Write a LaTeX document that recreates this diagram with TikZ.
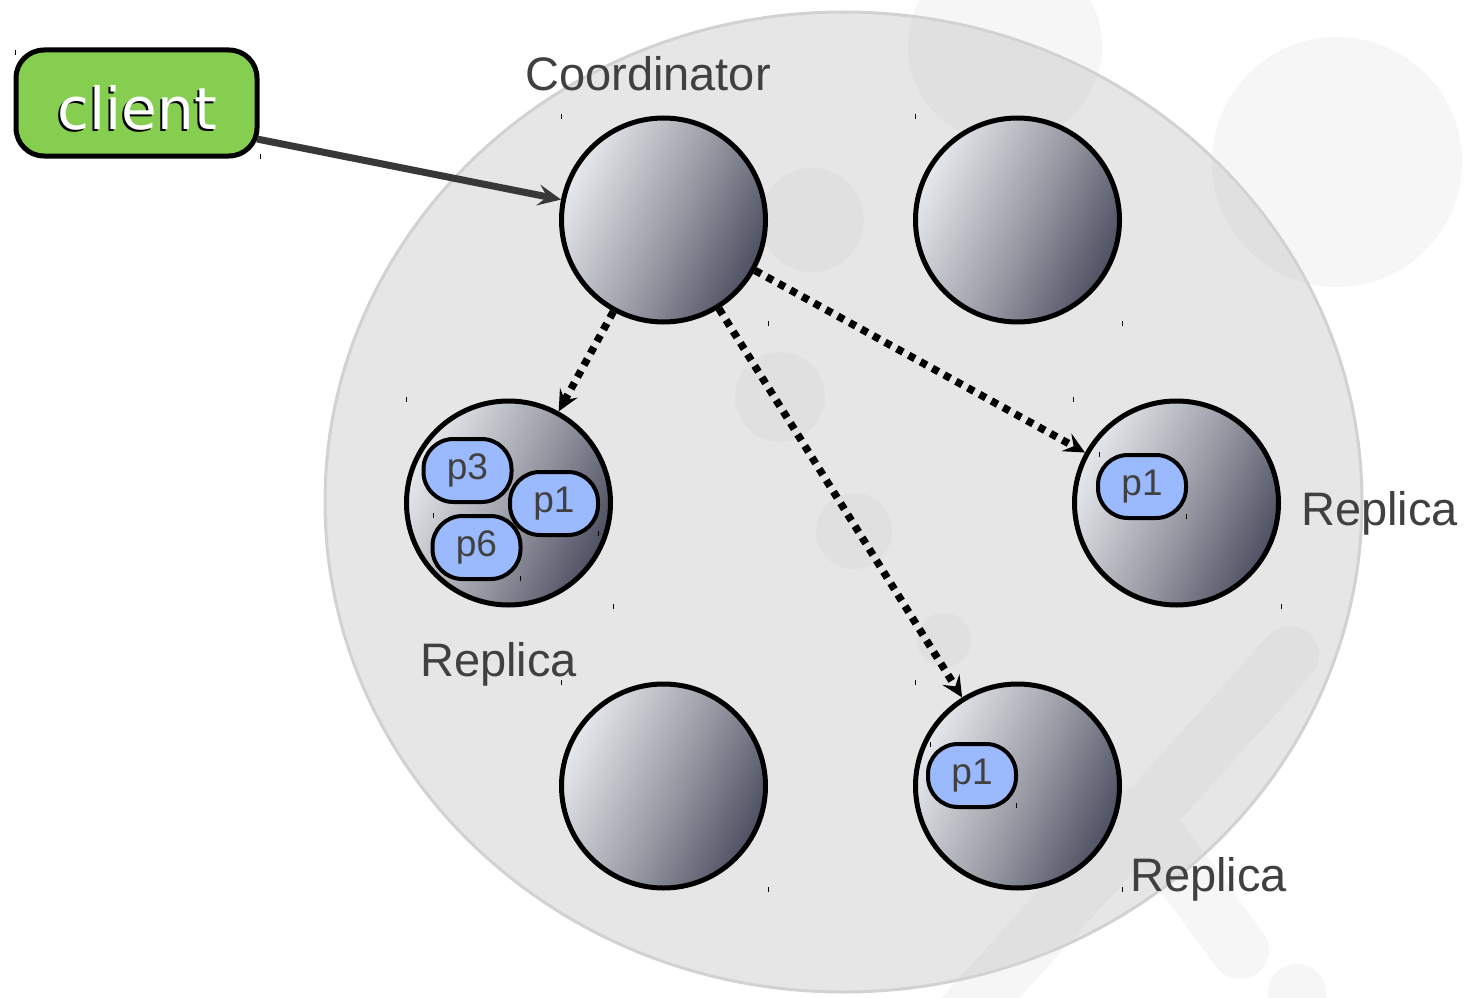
\documentclass[tikz,border=0pt]{standalone}
\usepackage{fontspec}
\setmainfont{Liberation Sans}
\newfontfamily\clientfont{DejaVu Sans}
\usetikzlibrary{arrows.meta}

\definecolor{ringfill}{HTML}{E6E6E6}
\definecolor{ringedge}{HTML}{D2D2D2}
\definecolor{markin}{HTML}{E0E0E0}
\definecolor{markout}{HTML}{F6F6F6}
\definecolor{nodelight}{HTML}{E6E9EC}
\definecolor{nodemid}{HTML}{A0A2AB}
\definecolor{nodedark}{HTML}{4E5062}
\definecolor{clientgreen}{HTML}{86CE50}
\definecolor{partblue}{HTML}{9BB9FD}
\definecolor{labelgray}{HTML}{404040}
\definecolor{arrowgray}{HTML}{383838}

\begin{document}
\begin{tikzpicture}[x=1pt,y=-1pt,
  server/.style={circle, draw=black, line width=5pt, minimum size=204pt,
    inner sep=0pt, top color=nodelight, bottom color=nodedark,
    middle color=nodemid, shading angle=65},
  part/.style={rectangle, rounded corners=30pt, draw=black, line width=4pt,
    fill=partblue, minimum width=88pt, minimum height=63pt, inner sep=0pt,
    text=labelgray, font=\fontsize{37pt}{40pt}\selectfont},
  rolelabel/.style={anchor=base west, inner sep=0pt, text=labelgray,
    font=\fontsize{47pt}{50pt}\selectfont},
  clientbox/.style={rectangle, rounded corners=28pt, draw=black,
    line width=5pt, fill=clientgreen, minimum width=241pt,
    minimum height=106pt},
  clienttext/.style={inner sep=0pt, font=\clientfont\fontsize{58pt}{60pt}\selectfont},
  sendarrow/.style={draw=arrowgray, line width=7pt,
    -{Stealth[length=23pt,width=21pt,inset=9pt]}},
  replarrow/.style={draw=black, line width=7.5pt, dash pattern=on 7pt off 6.5pt,
    -{Stealth[length=21pt,width=20pt,inset=8pt]}},
  bbtick/.style={draw=black, line width=1pt},
  watermark/.style={line width=58pt, line cap=round}
]
\useasboundingbox (0,0) rectangle (1465,998);

% faint emblem behind the ring (outside part)
\fill[markout] (1005,46) circle[radius=97] (1337,162) circle[radius=125]
  (1297,993) circle[radius=29];
\draw[markout, watermark] (1290,655) -- (965,1015);
\draw[markout, watermark] (1140,815) -- (1240,950);

% the ring of servers
\draw[ringedge, line width=3pt, fill=ringfill]
  (843.5,502) ellipse [x radius=518.5, y radius=490];

% faint emblem inside the ring
\begin{scope}
  \clip (843.5,502) ellipse [x radius=517, y radius=488.5];
  \fill[markin] (1005,46) circle[radius=97] (1337,162) circle[radius=125]
    (1297,993) circle[radius=29] (812,220) circle[radius=52]
    (780,397) circle[radius=45] (854,531) circle[radius=38]
    (944,640) circle[radius=27];
  \draw[markin, watermark] (1290,655) -- (965,1015);
  \draw[markin, watermark] (1140,815) -- (1240,950);
\end{scope}

% servers
\node[server] (coord) at (663.5,220) {};
\node[server] (srvNE) at (1017.5,220) {};
\node[server] (repL)  at (508.5,503) {};
\node[server] (repR)  at (1176.5,503) {};
\node[server] (srvS)  at (663.5,786) {};
\node[server] (repSE) at (1017.5,786) {};

% partitions held by the replicas
\node[part] (p3)  at (467.5,470.5) {p3};
\node[part] (p1L) at (554,503.5) {p1};
\node[part] (p6)  at (476.5,547.5) {p6};
\node[part] (p1R) at (1142,486.5) {p1};
\node[part] (p1B) at (972,775.5) {p1};

% role labels
\node[rolelabel] (coordname) at (525,90) {Coordinator};
\node[rolelabel] (replname1) at (420,676) {Replica};
\node[rolelabel] (replname2) at (1301,525) {Replica};
\node[rolelabel] (replname3) at (1130,891) {Replica};

% client
\node[clientbox] (client) at (136.5,103) {};
\node[clienttext, text=black] (clientshade) at (135.3,109.7) {client};
\node[clienttext, text=white] (clientname) at (137.5,107.5) {client};
\coordinate (clientout) at (257,139);

% request and replication
\draw[sendarrow] (clientout) -- (coord);
\draw[replarrow] (coord) -- (repL);
\draw[replarrow] (coord) -- (repSE);
\draw[replarrow] (coord) -- (repR);

% small corner marks
\foreach \tx/\ty in {15/50, 260/154, 561/114, 768/321, 915/114, 1122/321,
  406/397, 613/604, 1073/397, 1281/604, 561/680, 768/887, 915/680, 1122/887,
  433/513, 598/531, 520/576, 1099/452, 1186/514, 930/742, 1016/803}
  \draw[bbtick] (\tx,\ty) -- ++(0,5);
\end{tikzpicture}
\end{document}
